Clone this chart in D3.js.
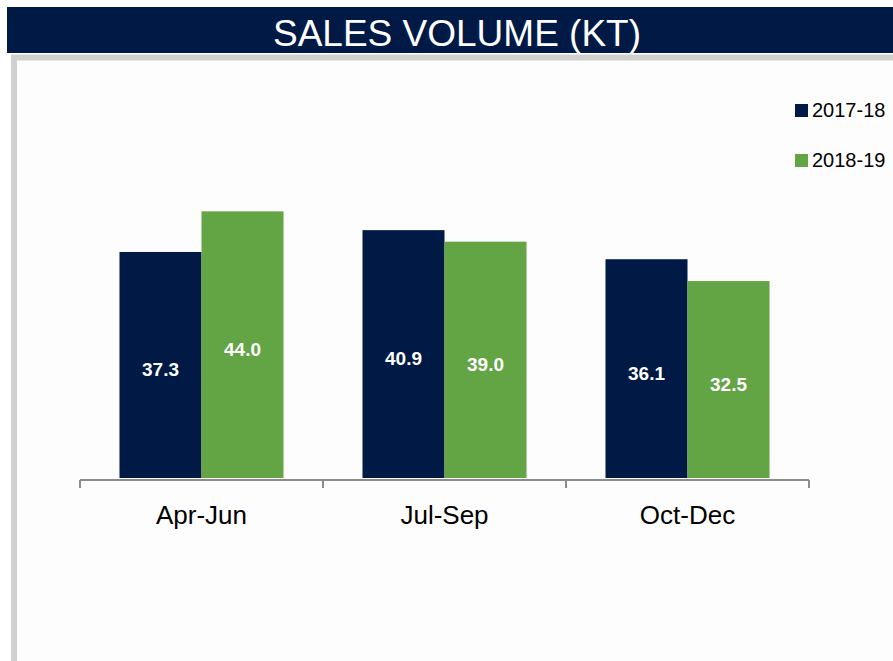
<!DOCTYPE html>
<html><head><meta charset="utf-8">
<script src="https://cdn.jsdelivr.net/npm/d3@7/dist/d3.min.js"></script>
<style>html,body{margin:0;padding:0;background:#fff;overflow:hidden}</style>
</head><body><div id="chart"></div>
<script>
const categories = ["Apr-Jun", "Jul-Sep", "Oct-Dec"];
const seriesNames = ["2017-18", "2018-19"];
const values2017 = [37.3, 40.9, 36.1];
const values2018 = [44.0, 39.0, 32.5];
const colors = ["#001a45", "#63a445"];
const title = "SALES VOLUME (KT)";

const W = 893, H = 661;
const svg = d3.select("#chart").append("svg").attr("width", W).attr("height", H);
const font = "Liberation Sans, Arial, sans-serif";

// frame
svg.append("rect").attr("x", 14).attr("y", 57.5).attr("width", 1000).attr("height", 1000)
  .attr("fill", "#fdfdfd").attr("stroke", "#d0d0d0").attr("stroke-width", 6);

// title bar
svg.append("rect").attr("x", 7).attr("y", 7).attr("width", W - 7).attr("height", 46).attr("fill", "#001a45");
svg.append("text").attr("x", 457).attr("y", 46).attr("text-anchor", "middle")
  .attr("fill", "#fff").attr("font-family", font).attr("font-size", 37).text(title);

const x = d3.scaleBand().domain(categories).range([80, 809]).paddingInner(0).paddingOuter(0);
const groupW = x.bandwidth() * 0.675;
const xs = d3.scaleBand().domain(seriesNames).range([0, groupW]).padding(0);
const y = d3.scaleLinear().domain([0, 50]).range([478, 175]);

const data = [];
categories.forEach((c, i) => {
  data.push({cat: c, s: seriesNames[0], v: values2017[i], col: colors[0]});
  data.push({cat: c, s: seriesNames[1], v: values2018[i], col: colors[1]});
});

const g = svg.append("g");
g.selectAll("rect.bar").data(data).enter().append("rect").attr("class", "bar")
  .attr("x", d => x(d.cat) + (x.bandwidth() - groupW) / 2 + xs(d.s))
  .attr("width", xs.bandwidth())
  .attr("y", d => y(d.v)).attr("height", d => y(0) - y(d.v))
  .attr("fill", d => d.col);

g.selectAll("text.val").data(data).enter().append("text").attr("class", "val")
  .attr("x", d => x(d.cat) + (x.bandwidth() - groupW) / 2 + xs(d.s) + xs.bandwidth() / 2)
  .attr("y", d => (y(d.v) + y(0)) / 2 + 11)
  .attr("text-anchor", "middle").attr("fill", "#fff").attr("font-weight", "bold")
  .attr("font-family", font).attr("font-size", 19)
  .text(d => d.v.toFixed(1));

// axis
const axis = d3.axisBottom(x).tickSize(0).tickFormat(d => d);
const ag = svg.append("g").attr("transform", "translate(0,480)").call(axis);
ag.select(".domain").attr("stroke", "#8c8c8c").attr("stroke-width", 2).attr("d", "M80,0H809");
ag.selectAll(".tick text").attr("font-family", font).attr("font-size", 26).attr("fill", "#000").attr("dy", 0).attr("y", 44);
const bounds = [80, ...categories.map(c => x(c) + x.bandwidth())];
ag.selectAll("line.sep").data(bounds).enter().append("line").attr("class", "sep")
  .attr("x1", d => d).attr("x2", d => d).attr("y1", 0).attr("y2", 8)
  .attr("stroke", "#8c8c8c").attr("stroke-width", 2);

// legend
const lg = svg.append("g");
seriesNames.forEach((s, i) => {
  lg.append("rect").attr("x", 795).attr("y", 104 + i * 50).attr("width", 13).attr("height", 13).attr("fill", colors[i]);
  lg.append("text").attr("x", 812).attr("y", 117 + i * 50).attr("font-family", font).attr("font-size", 20)
    .attr("fill", "#000").text(s);
});
</script></body></html>
